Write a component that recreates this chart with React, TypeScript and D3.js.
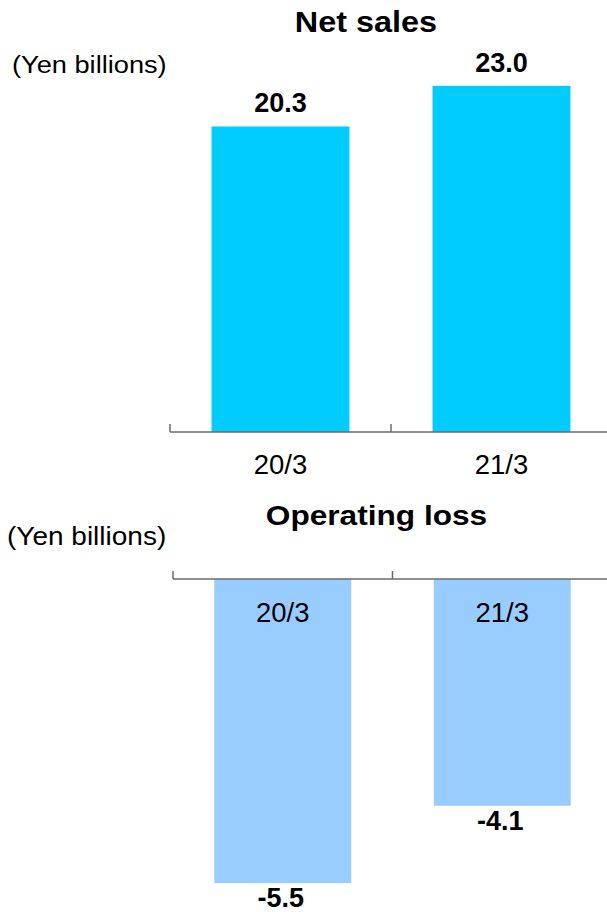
import * as d3 from "d3";

const categories = ["20/3", "21/3"];
const netSales = [20.3, 23.0];
const operatingLoss = [-5.5, -4.1];
const unitLabel = "(Yen billions)";
const titles = ["Net sales", "Operating loss"];

const W = 607;
const H = 912;
const FONT = "'Liberation Sans', Arial, sans-serif";

const stretched = (x: number, y: number, s: number) => `translate(${x},${y}) scale(${s},1)`;

export default function App() {
  // top panel
  const xTop = d3.scaleBand<string>().domain(categories).range([170, 612]).paddingInner(0.376).paddingOuter(0.188);
  const yTop = d3.scaleLinear().domain([0, 25]).range([432, 432 - 25 * 15.05]);
  // bottom panel
  const xBot = d3.scaleBand<string>().domain(categories).range([173, 612]).paddingInner(0.376).paddingOuter(0.188);
  const yBot = d3.scaleLinear().domain([0, -6]).range([579, 579 + 6 * 55.3]);

  const fmt = (v: number) => v.toFixed(1);
  const axisColor = "#6b6b6b";

  const ticksTop = d3.range(categories.length + 1).map(i => 170 + i * xTop.step());
  const ticksBot = d3.range(categories.length + 1).map(i => 173 + i * xBot.step());

  return (
    <svg width={W} height={H} style={{ position: "absolute", left: 0, top: 0 }} fontFamily={FONT}>
      <rect width={W} height={H} fill="#fff" />

      {/* Net sales */}
      <text transform={stretched(366, 32, 1.08)} textAnchor="middle" fontSize={30} fontWeight="bold">{titles[0]}</text>
      <text transform={stretched(12, 73, 1.11)} fontSize={24.5}>{unitLabel}</text>
      {categories.map((c, i) => (
        <g key={c}>
          <rect x={xTop(c)} y={yTop(netSales[i])} width={xTop.bandwidth()} height={yTop(0) - yTop(netSales[i])} fill="#00CCFF" />
          <text x={xTop(c)! + xTop.bandwidth() / 2} y={yTop(netSales[i]) - 14} textAnchor="middle" fontSize={27} fontWeight="bold">{fmt(netSales[i])}</text>
          <text x={xTop(c)! + xTop.bandwidth() / 2} y={474} textAnchor="middle" fontSize={27.5}>{c}</text>
        </g>
      ))}
      <line x1={170} x2={W} y1={yTop(0)} y2={yTop(0)} stroke={axisColor} strokeWidth={1.5} />
      {ticksTop.map(t => (
        <line key={t} x1={t} x2={t} y1={yTop(0) - 8} y2={yTop(0)} stroke={axisColor} strokeWidth={1.5} />
      ))}

      {/* Operating loss */}
      <text transform={stretched(376.5, 525, 1.11)} textAnchor="middle" fontSize={28.5} fontWeight="bold">{titles[1]}</text>
      <text transform={stretched(7, 545, 1.12)} fontSize={25}>{unitLabel}</text>
      {categories.map((c, i) => (
        <g key={c}>
          <rect x={xBot(c)} y={yBot(0)} width={xBot.bandwidth()} height={yBot(operatingLoss[i]) - yBot(0)} fill="#99CCFF" />
          <text x={xBot(c)! + xBot.bandwidth() / 2 - 2} y={yBot(operatingLoss[i]) + 24} textAnchor="middle" fontSize={27} fontWeight="bold">{fmt(operatingLoss[i])}</text>
          <text x={xBot(c)! + xBot.bandwidth() / 2} y={622} textAnchor="middle" fontSize={27.5}>{c}</text>
        </g>
      ))}
      <line x1={173} x2={W} y1={yBot(0)} y2={yBot(0)} stroke={axisColor} strokeWidth={1.5} />
      {ticksBot.map(t => (
        <line key={t} x1={t} x2={t} y1={yBot(0) - 8} y2={yBot(0)} stroke={axisColor} strokeWidth={1.5} />
      ))}
    </svg>
  );
}
